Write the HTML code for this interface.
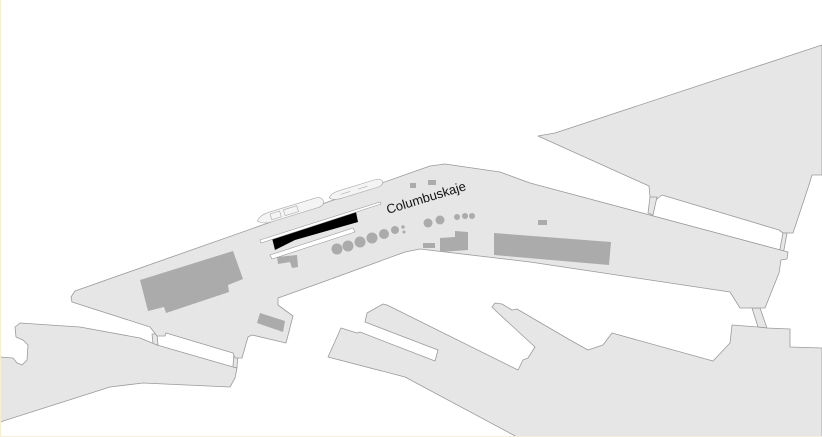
<!DOCTYPE html>
<html><head><meta charset="utf-8"><style>
html,body{margin:0;padding:0;background:#fff;width:822px;height:437px;overflow:hidden}
svg{display:block}
</style></head><body>
<svg width="822" height="437" viewBox="0 0 822 437" xmlns="http://www.w3.org/2000/svg">
<g fill="#e6e6e6" stroke="#9a9a9a" stroke-width="0.8" stroke-linejoin="round">
<!-- upper right land -->
<polygon points="538,136 555,133 822,45 822,175 812,175 808,188 793,233 783,233 779,230 662,195 657,199 650,197 649,186"/>
<!-- bridges -->
<polygon points="650,197 657,197 653,215 648,213"/>
<polygon points="783,233 787,233 783,255 779,254"/>
<polygon points="752,308 760,308 767,328 758,327"/>
<polygon points="152,334 157,334 158,345 153,344"/>
<polygon points="234,352 238,352 237,368 233,367"/>
<!-- main pier -->
<polygon points="75,291 430,166 445,164 500,172 530,183 788,252 787,259 781,260 779,273 765,308 740,308 730,292 530,262 420,249 405,252 320,283 278,298 278,305 293,316 286,343 252,335 248,337 242,358 235,358 233,353 166,333 165,336 157,336 150,327 72,302 71,297"/>
<!-- lower left land -->
<polygon points="0,357 13,358 17,363 22,365 27,360 28,345 23,340 16,337 15,327 20,323 80,327 140,338 157,345 233,367 237,368 235,378 230,387 143,383 110,387 0,422"/>
<!-- lower middle/right land -->
<polygon points="328,357 341,328 357,333 360,332 435,361 438,350 365,322 367,313 383,304 387,305 518,370 523,360 528,358 535,347 497,312 492,307 495,303 502,304 512,310 517,309 570,340 588,350 603,345 612,333 713,361 730,343 732,325 758,327 767,328 790,329 790,347 822,348 822,437 517,437 405,377"/>
</g>
<!-- buildings -->
<g fill="#ababab">
<polygon points="140,280 233,251 243,279 228,285 229,292 166,313 164,307 148,311"/>
<polygon points="257,323 260,313 285,321 283,332"/>
<polygon points="494,233 611,242 609,265 494,255"/>
<rect x="538" y="220" width="9" height="5"/>
<polygon points="277,257 297,255 298,267 292,268 290,262 278,264"/>
<rect x="410" y="183" width="6" height="5"/>
<rect x="428" y="180" width="8" height="5"/>
<rect x="423" y="243" width="12" height="5"/>
<polygon points="440,238 455,237 455,231 468,232 468,250 440,252"/>
<circle cx="337" cy="249" r="5.5"/><circle cx="348" cy="246" r="5.5"/><circle cx="360" cy="242" r="5.5"/>
<circle cx="372" cy="238" r="5.5"/><circle cx="384" cy="234" r="5"/><circle cx="395" cy="230" r="4"/>
<circle cx="403" cy="227" r="1.7"/><circle cx="404" cy="232" r="1.5"/>
<circle cx="428" cy="223" r="4.5"/><circle cx="440" cy="220" r="4.5"/>
<circle cx="457" cy="217" r="3"/><circle cx="465" cy="216" r="3"/><circle cx="472" cy="216" r="3"/>
</g>
<!-- black terminal -->
<polygon points="272,238 356,212 358,222 295,240 275,250" fill="#000"/>
<!-- white strips -->
<polygon points="270,255 353,228 355,232 272,259" fill="#fff" stroke="#999" stroke-width="0.6"/>
<polygon points="260,240 380,202 381,204 261,243" fill="#fff" stroke="#999" stroke-width="0.6"/>
<!-- ships -->
<g fill="#f4f4f4" stroke="#aaa" stroke-width="0.6">
<g transform="translate(290,211) rotate(-17)">
<path d="M-34,0 Q-30,-5 -20,-5 L28,-5 Q34,-5 35,0 Q34,5 28,5 L-20,5 Q-30,5 -34,0 Z"/>
<rect x="-20" y="-3" width="10" height="6" fill="none"/><rect x="-6" y="-3" width="14" height="6" fill="none"/>
</g>
<g transform="translate(355,190) rotate(-17)">
<path d="M-27,0 Q-24,-4 -15,-4 L22,-4 Q28,-4 29,0 Q28,4 22,4 L-15,4 Q-24,4 -27,0 Z"/>
<line x1="-15" y1="0" x2="-5" y2="0"/><line x1="3" y1="0" x2="13" y2="0"/>
</g>
</g>
<text x="0" y="0" transform="translate(388,214) rotate(-17)" font-family="Liberation Sans, sans-serif" font-size="13" fill="#111">Columbuskaje</text>
<rect x="0" y="0" width="1" height="437" fill="#f6efd6"/>
<rect x="0" y="436" width="822" height="1" fill="#f6efd6"/>
</svg>
</body></html>
